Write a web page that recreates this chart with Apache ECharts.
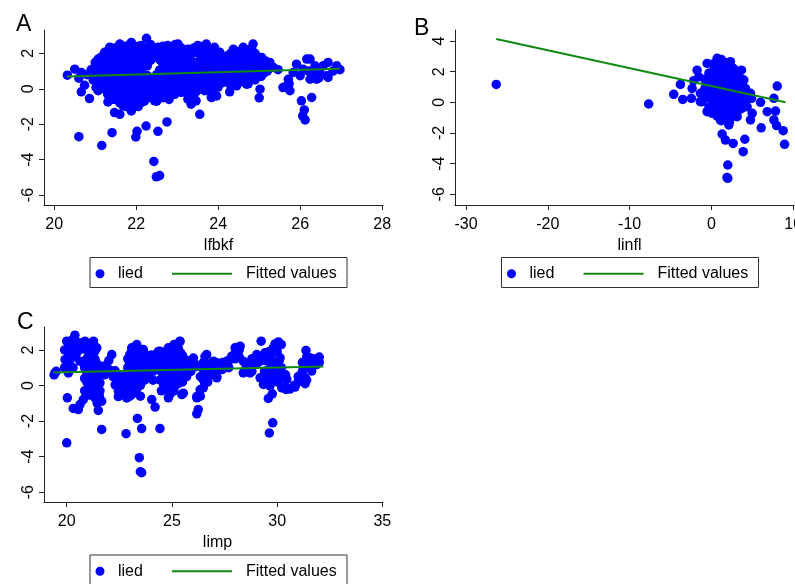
<!DOCTYPE html>
<html><head><meta charset="utf-8">
<script src="https://cdn.jsdelivr.net/npm/echarts@6/dist/echarts.min.js"></script>
<style>html,body{margin:0;padding:0;background:#fff}#c{width:795px;height:584px}</style>
</head><body><div id="c"></div>
<script>
const FONT = '"Liberation Sans", Arial, sans-serif';
const scatterName = 'lied';
const fitName = 'Fitted values';
const panelLabels = ['A', 'B', 'C'];
const xTitles = ['lfbkf', 'linfl', 'limp'];
const xTicksA = [20, 22, 24, 26, 28];
const xTicksB = [-30, -20, -10, 0, 10];
const xTicksC = [20, 25, 30, 35];
const yTicksA = [-6, -4, -2, 0, 2];
const yTicksB = [-6, -4, -2, 0, 2, 4];
const yTicksC = [-6, -4, -2, 0, 2];

const pointsA = [
[20.32,0.77],[20.50,1.11],[20.66,0.92],[20.90,1.07],[20.60,0.60],[20.80,0.80],[20.95,0.50],[21.00,1.30],[20.74,0.20],[20.66,-0.17],[20.86,-0.55],[21.02,0.07],[21.07,-0.11],[21.27,0.17],[21.35,-0.31],[21.31,-0.74],[21.47,-1.34],[21.60,-1.44],[21.88,-1.25],[21.68,-0.96],[21.76,-0.59],[22.12,-0.78],[22.45,-0.68],[22.69,-0.40],[22.94,-0.31],[23.03,0.30],[23.18,0.36],[23.26,-0.59],[23.34,-0.87],[23.46,-0.68],[23.55,-1.44],[23.67,-0.11],[23.83,-0.49],[23.75,0.36],
[20.60,-2.70],[21.16,-3.20],[21.41,-2.48],[21.99,-2.72],[22.02,-2.40],[22.24,-2.10],[22.53,-2.40],[22.75,-1.87],[22.43,-4.10],[22.49,-4.97],[22.57,-4.90],
[21.07,1.68],[21.23,2.06],[21.35,2.34],[21.60,2.53],[21.88,2.62],[22.12,2.44],[22.25,2.85],[22.53,2.34],[22.77,2.44],[23.02,2.53],[23.26,2.24],[23.50,2.44],[23.71,2.53],[23.91,2.34],[24.04,2.06],[24.37,2.24],[24.61,2.34],[24.85,2.53],[25.06,1.77],[25.14,1.59],[25.26,1.49],
[21.00,0.50],[21.00,1.00],[21.00,1.50],
[21.15,0.30],[21.15,0.80],[21.15,1.30],[21.15,1.80],
[21.30,-0.30],[21.30,0.20],[21.30,0.70],[21.30,1.20],[21.30,1.70],[21.30,2.10],
[21.45,-0.60],[21.45,-0.10],[21.45,0.40],[21.45,0.90],[21.45,1.40],[21.45,1.90],[21.45,2.30],
[21.60,-0.80],[21.60,-0.30],[21.60,0.20],[21.60,0.70],[21.60,1.20],[21.60,1.60],[21.60,2.10],[21.60,2.50],
[21.75,-1.00],[21.75,-0.50],[21.75,0.00],[21.75,0.50],[21.75,1.00],[21.75,1.50],[21.75,2.00],[21.75,2.40],
[21.90,-0.80],[21.90,-0.30],[21.90,0.20],[21.90,0.70],[21.90,1.20],[21.90,1.70],[21.90,2.20],
[22.05,-1.00],[22.05,-0.50],[22.05,0.00],[22.05,0.50],[22.05,1.00],[22.05,1.50],[22.05,1.90],[22.05,2.40],
[22.20,-0.70],[22.20,-0.20],[22.20,0.30],[22.20,0.80],[22.20,1.30],[22.20,1.80],[22.20,2.30],
[22.35,-0.50],[22.35,0.00],[22.35,0.50],[22.35,1.60],[22.35,2.00],[22.35,2.50],
[22.50,-0.70],[22.50,-0.20],[22.50,0.30],[22.50,0.80],[22.50,1.90],[22.50,2.20],
[22.65,-0.50],[22.65,0.00],[22.65,0.50],[22.65,1.00],[22.65,1.40],[22.65,1.90],[22.65,2.40],
[22.80,-0.60],[22.80,-0.10],[22.80,0.40],[22.80,0.90],[22.80,1.40],[22.80,1.80],[22.80,2.20],
[22.95,0.10],[22.95,0.60],[22.95,1.10],[22.95,1.60],[22.95,2.10],[22.95,2.50],
[23.10,-0.20],[23.10,0.50],[23.10,1.00],[23.10,1.40],[23.10,1.90],[23.10,2.30],
[23.25,-0.30],[23.25,0.20],[23.25,0.70],[23.25,1.20],[23.25,1.70],[23.25,2.10],
[23.40,-0.40],[23.40,0.10],[23.40,0.60],[23.40,1.10],[23.40,1.50],[23.40,2.30],
[23.55,0.00],[23.55,0.50],[23.55,1.00],[23.55,1.60],[23.55,2.00],[23.55,2.40],
[23.70,0.20],[23.70,0.70],[23.70,1.20],[23.70,1.70],[23.70,2.20],
[23.85,-0.10],[23.85,0.40],[23.85,0.90],[23.85,1.40],[23.85,1.90],
[24.00,0.10],[24.00,0.60],[24.00,1.10],[24.00,1.60],
[24.15,0.40],[24.15,0.90],[24.15,1.30],[24.15,1.80],
[24.30,0.20],[24.30,0.70],[24.30,1.20],[24.30,1.60],[24.30,2.00],
[24.45,0.50],[24.45,1.00],[24.45,1.50],[24.45,1.90],
[24.60,0.40],[24.60,0.90],[24.60,1.40],[24.60,2.00],
[24.75,0.60],[24.75,1.10],[24.75,1.60],[24.75,2.20],
[24.90,0.50],[24.90,1.00],[24.90,1.50],[24.90,2.00],
[25.05,0.70],[25.05,1.20],[25.05,1.60],
[25.20,1.00],[25.20,1.30],
[21.22,0.00],[21.22,0.45],[21.22,0.95],[21.22,1.45],[21.22,1.95],
[21.37,-0.50],[21.37,0.45],[21.37,0.95],[21.37,1.45],[21.37,2.00],
[21.52,-0.35],[21.52,0.15],[21.52,0.65],[21.52,1.15],[21.52,1.65],[21.52,2.20],
[21.67,-0.55],[21.67,-0.05],[21.67,0.45],[21.67,0.95],[21.67,1.40],[21.67,1.85],[21.67,2.30],
[21.82,-0.55],[21.82,-0.05],[21.82,0.45],[21.82,0.95],[21.82,1.45],[21.82,1.95],[21.82,2.45],
[21.97,-0.55],[21.97,-0.05],[21.97,0.45],[21.97,0.95],[21.97,1.45],[21.97,1.95],
[22.12,-0.25],[22.12,0.25],[22.12,0.75],[22.12,1.25],[22.12,1.70],[22.12,2.15],
[22.27,-0.25],[22.27,0.25],[22.27,0.75],[22.27,1.30],[22.27,1.85],
[22.42,-0.30],[22.42,0.25],[22.42,0.60],[22.42,1.85],[22.42,2.25],
[22.57,-0.45],[22.57,0.05],[22.57,0.55],[22.57,1.05],[22.57,1.65],[22.57,2.05],
[22.72,-0.30],[22.72,0.25],[22.72,0.75],[22.72,1.20],[22.72,1.65],[22.72,2.10],
[22.87,-0.35],[22.87,0.15],[22.87,0.65],[22.87,1.15],[22.87,1.60],[22.87,2.00],[22.87,2.35],
[23.02,0.85],[23.02,1.35],[23.02,1.85],[23.02,2.25],
[23.17,0.05],[23.17,0.75],[23.17,1.20],[23.17,1.65],[23.17,2.10],
[23.32,-0.05],[23.32,0.45],[23.32,0.95],[23.32,1.45],[23.32,1.90],
[23.47,-0.15],[23.47,0.35],[23.47,0.85],[23.47,1.30],[23.47,2.05],
[23.62,0.25],[23.62,0.75],[23.62,1.30],[23.62,1.80],[23.62,2.20],
[23.77,-0.10],[23.77,0.45],[23.77,0.95],[23.77,1.45],[23.77,1.95],
[23.92,0.15],[23.92,0.65],[23.92,1.15],[23.92,1.65],
[24.07,0.35],[24.07,0.85],[24.07,1.35],[24.07,1.85],
[24.22,0.45],[24.22,0.95],[24.22,1.45],[24.22,1.85],
[24.37,0.45],[24.37,0.95],[24.37,1.40],[24.37,1.75],
[24.52,0.65],[24.52,1.15],[24.52,1.65],[24.52,2.10],
[24.67,0.65],[24.67,1.15],[24.67,1.70],[24.67,2.15],
[24.82,0.85],[24.82,1.30],[24.82,1.75],[24.82,2.25],
[24.97,0.75],[24.97,1.25],[24.97,1.80],
[25.12,0.90],[25.12,1.40],
[24.61,1.30],[24.85,1.49],[24.77,0.74],[24.69,0.26],[24.73,0.28],[25.02,-0.02],[25.00,-0.51],[24.28,-0.17],[23.96,-0.40],[23.84,-0.49],[24.12,0.36],[24.45,0.17],
[25.46,1.08],[25.35,1.20],[25.18,1.30],[25.71,0.54],[25.58,0.07],[25.75,-0.11],[25.67,0.17],[25.73,0.28],[25.83,0.92],[25.91,1.39],[26.16,1.68],[26.07,1.11],[26.00,0.74],[26.03,-0.68],[26.28,-0.49],[26.10,-1.19],[26.06,-1.53],[26.12,-1.76],[26.24,1.68],[26.36,1.30],[26.24,0.54],[26.40,0.54],[26.48,0.92],[26.38,1.04],[26.56,1.30],[26.68,1.49],[26.68,0.64],[26.65,0.74],[26.89,1.30],[26.97,1.08],[26.93,1.13],[26.80,1.00],[26.20,1.00],[26.30,0.80],[26.45,0.60]
];

const pointsB = [
[-26.3,1.17],[-7.67,-0.11],[-4.61,0.52],[-3.79,1.17],[-3.51,0.19],[-2.45,0.26],[-2.16,1.41],[-2.36,0.91],[-1.75,2.10],[-1.35,0.04],[-0.53,-0.61],
[8.04,1.06],[7.63,0.26],[6.82,-0.61],[7.83,-0.57],[7.63,-1.15],[7.96,-1.52],[8.77,-1.85],[8.94,-2.74],[6.00,0.00],[6.08,-1.66],[4.77,-1.15],[4.98,-0.72],[4.90,0.26],[4.08,-2.41],[3.88,-3.22],[2.65,-2.68],[1.31,-2.07],[1.71,-2.46],[2.00,-4.09],[2.00,-4.96],[1.90,-4.90],[1.10,-1.15],[2.12,-1.48],[3.96,1.45],[3.67,2.10],[3.14,2.00],[4.16,0.91],[4.36,0.37],
[0.70,2.87],[-0.53,2.54],[2.32,2.65],[3.34,2.00],[4.77,0.59],[4.36,-0.29],[3.14,-0.94],[0.08,-0.72],[-1.14,0.04],[-1.35,0.59],[-1.55,1.67],
[-0.80,0.30],[-0.80,0.90],[-0.80,1.50],
[-0.30,-0.30],[-0.30,0.30],[-0.30,0.80],[-0.30,1.30],[-0.30,1.90],
[0.20,-0.60],[0.20,0.00],[0.20,0.50],[0.20,1.00],[0.20,1.50],[0.20,2.00],[0.20,2.50],
[0.70,-0.90],[0.70,-0.30],[0.70,0.20],[0.70,0.70],[0.70,1.20],[0.70,1.70],[0.70,2.20],[0.70,2.70],
[1.20,-1.20],[1.20,-0.60],[1.20,-0.10],[1.20,0.40],[1.20,0.90],[1.20,1.40],[1.20,1.90],[1.20,2.40],[1.20,2.80],
[1.70,-1.00],[1.70,-0.40],[1.70,0.10],[1.70,0.60],[1.70,1.10],[1.70,1.60],[1.70,2.10],[1.70,2.60],
[2.20,-1.30],[2.20,-0.70],[2.20,-0.20],[2.20,0.30],[2.20,0.80],[2.20,1.30],[2.20,1.80],[2.20,2.30],[2.20,2.60],
[2.70,-0.90],[2.70,-0.30],[2.70,0.20],[2.70,0.70],[2.70,1.20],[2.70,1.70],[2.70,2.20],
[3.20,-0.60],[3.20,0.00],[3.20,0.50],[3.20,1.00],[3.20,1.50],
[3.70,-0.40],[3.70,0.20],[3.70,0.70],[3.70,1.20],[3.70,1.50],
[4.20,-0.20],[4.20,0.40]
];

const pointsC = [
[20.00,-3.22],[20.03,-0.69],[20.39,2.83],[20.00,2.49],[19.44,0.71],[19.40,0.60],[20.31,-1.29],[20.55,-1.35],[21.50,-1.40],[21.66,-2.47],[22.82,-2.71],[23.36,-1.85],[23.56,-2.42],[23.45,-4.06],[23.56,-4.90],[23.50,-4.85],[24.43,-2.42],[24.04,-0.79],[24.20,-1.21],[26.18,-1.59],[26.25,-1.35],[26.18,-0.69],[25.38,2.49],
[29.24,2.49],[29.79,-2.10],[29.63,-2.67],[29.58,-0.73],[29.77,-0.47],[30.06,2.45],[29.90,2.34],[30.14,1.56],[30.22,-0.13],[30.42,-0.22],[30.85,-0.09],[31.33,0.10],[31.37,1.97],[31.96,1.46],[27.13,0.43],
[20.08,0.71],[19.92,1.46],[20.87,2.49],[21.27,2.49],[21.43,2.12],[20.63,1.37],[20.48,1.84],[21.03,0.62],[21.26,0.25],[21.11,-0.51],[20.79,-0.79],[20.63,-1.07],[21.74,0.99],[22.14,1.74],[21.58,0.15],[21.66,-0.88],[21.58,-0.30],[22.38,0.62],[22.53,0.06],[22.61,-0.51],[23.00,-0.60],[23.09,2.12],[23.33,2.30],[23.64,2.02],[23.17,1.37],[23.00,0.43],[23.33,-0.13],[23.96,0.99],[24.43,1.93],[24.83,2.12],[24.83,-0.69],[25.07,-0.32],[25.47,-0.51],[26.65,1.74],[26.97,1.37],[26.65,0.62],[26.49,-0.13],
[27.29,0.90],[28.00,2.12],[28.24,2.21],[27.84,1.65],[28.39,1.37],[28.39,0.71],[28.71,0.71],[29.03,1.74],[29.42,1.84],[29.66,1.46],[29.19,0.43],[29.35,0.06],[29.58,0.62],[29.90,0.43],[30.30,0.53],[30.46,0.34],[29.66,-0.02],[31.17,0.62],[31.25,0.99],[31.56,1.56],[31.88,1.18],[31.64,0.81],[31.33,0.43],[27.60,1.37],[28.47,0.81],
[26.18,-0.62],[26.34,-0.24],[26.57,0.13],[26.57,1.63],[27.13,0.51],[22.30,0.04],[22.45,-0.62],[22.85,-0.70],[22.30,0.83],[24.04,1.72],[24.35,1.91],[23.80,0.70],[24.43,0.32],[25.38,2.47],[25.07,2.00],[25.54,-0.43],[26.02,1.54],[26.18,1.07],
[19.50,0.80],[19.90,1.00],[19.90,2.00],[20.10,1.30],[20.10,1.80],[20.10,2.30],[20.30,1.00],[20.30,1.60],[20.30,2.10],[20.30,2.60],[20.60,2.00],[20.60,2.40],
[20.85,-0.30],[20.85,0.40],[20.85,1.00],[20.85,2.10],[21.05,0.00],[21.05,1.20],[21.05,1.80],[21.05,2.30],[21.25,-0.60],[21.25,-0.10],[21.25,0.50],[21.25,1.10],[21.25,1.70],[21.25,2.20],
[21.45,-1.00],[21.45,-0.40],[21.45,0.20],[21.45,0.70],[21.45,1.20],[21.60,0.90],[21.80,0.60],[21.80,1.10],[22.00,0.90],[22.00,1.40],[22.20,0.50],[22.20,0.80],[22.45,-0.30],[22.45,0.20],[22.70,-0.40],[22.70,0.00],[22.70,0.50],
[22.90,0.00],[22.90,0.50],[22.90,1.00],[22.90,1.50],[23.10,-0.50],[23.10,0.10],[23.10,0.60],[23.10,1.10],[23.10,1.60],[23.10,2.00],[23.30,-0.30],[23.30,0.30],[23.30,0.80],[23.30,1.30],[23.30,1.80],[23.30,2.20],
[23.50,-0.60],[23.50,0.00],[23.50,0.50],[23.50,1.00],[23.50,1.50],[23.50,2.00],[23.70,0.30],[23.70,0.80],[23.70,1.30],[23.70,1.80],[23.90,0.50],[23.90,1.40],
[24.10,0.30],[24.10,0.80],[24.10,1.30],[24.30,0.90],[24.30,1.40],[24.50,-0.30],[24.50,0.30],[24.50,0.80],[24.50,1.30],[24.50,1.80],
[24.70,-0.20],[24.70,0.40],[24.70,0.90],[24.70,1.40],[24.70,1.90],[24.90,-0.50],[24.90,0.00],[24.90,0.60],[24.90,1.10],[24.90,1.60],[24.90,2.10],
[25.10,-0.20],[25.10,0.30],[25.10,0.80],[25.10,1.30],[25.10,1.80],[25.10,2.30],[25.30,0.10],[25.30,0.60],[25.30,1.10],[25.30,1.60],[25.30,2.10],
[25.50,0.20],[25.50,0.70],[25.50,1.20],[25.50,1.70],[25.70,0.50],[25.70,1.00],[25.70,1.40],[25.90,0.80],[25.90,1.30],[26.10,1.20],
[26.35,-0.60],[26.35,0.50],[26.50,0.30],[26.50,0.90],[26.50,1.30],[26.70,0.20],[26.70,0.70],[26.70,1.20],[26.90,0.60],[26.90,1.10],
[27.10,0.90],[27.10,1.30],[27.40,0.90],[27.40,1.30],[27.70,1.00],[27.70,1.40],[28.00,1.50],[28.00,1.80],[28.20,1.60],[28.20,2.00],[28.50,1.20],[28.50,0.80],
[28.80,1.10],[28.80,1.50],[28.80,0.80],[29.10,1.30],[29.10,1.60],[29.40,1.40],[29.40,0.40],[29.40,0.80],[29.60,0.90],[29.60,1.90],[29.60,0.30],
[29.80,0.70],[29.80,1.30],[29.80,2.10],[30.00,0.20],[30.00,0.80],[30.00,1.20],[30.00,1.90],[30.20,0.40],[30.20,1.00],[30.20,2.30],[30.40,0.60],[30.40,-0.10],[30.60,-0.20],[30.80,0.00],
[31.00,0.20],[31.00,0.50],[31.20,0.80],[31.20,1.30],[31.40,1.10],[31.40,1.60],[31.40,0.30],[31.60,1.00],[31.60,1.30],[31.80,1.20],[31.80,1.50],[32.00,1.30],[32.00,1.60],
[20.20,1.05],[20.20,1.55],[20.20,2.05],[20.20,2.50],
[20.95,-0.55],[20.95,0.20],[20.95,0.70],[20.95,1.50],[20.95,2.00],
[21.15,-0.30],[21.15,0.30],[21.15,0.90],[21.15,1.50],[21.15,2.00],
[21.35,-0.70],[21.35,-0.20],[21.35,0.40],[21.35,0.95],[21.35,1.45],[21.35,1.95],
[21.55,-0.60],[21.55,0.55],[21.55,1.10],
[23.00,-0.30],[23.00,0.25],[23.00,0.75],[23.00,1.25],[23.00,1.75],
[23.20,-0.20],[23.20,0.35],[23.20,0.85],[23.20,1.35],[23.20,1.85],
[23.40,0.05],[23.40,0.55],[23.40,1.05],[23.40,1.55],[23.40,2.05],
[23.60,0.55],[23.60,1.05],[23.60,1.55],
[24.60,0.05],[24.60,0.60],[24.60,1.10],[24.60,1.60],
[24.80,0.35],[24.80,0.85],[24.80,1.35],[24.80,1.85],
[25.00,0.55],[25.00,1.05],[25.00,1.55],[25.00,2.05],
[25.20,0.35],[25.20,0.85],[25.20,1.35],[25.20,1.85],
[25.40,0.35],[25.40,0.85],[25.40,1.35],[25.40,1.85],
[29.70,0.55],[29.70,1.10],[29.70,1.60],[30.10,0.60],[30.10,1.40]
];

const fitA = [[20.3, 0.70], [26.97, 1.13]];
const fitB = [[-26.3, 4.13], [9.06, 0.00]];
const fitC = [[19.36, 0.73], [32.2, 1.07]];

const BLUE = '#0000ff';
const GREEN = '#108a10';
const AXIS = '#222';

const grids = [
  { left: 44, top: 30, width: 339, height: 175, outerBoundsMode: 'none' },
  { left: 455, top: 30, width: 339, height: 175, outerBoundsMode: 'none' },
  { left: 44, top: 327, width: 339, height: 175, outerBoundsMode: 'none' }
];
const xRanges = [[19.75, 28.02], [-31.34, 10.09], [18.92, 35.03]];
const yRanges = [[-6.56, 3.32], [-6.70, 4.72], [-6.55, 3.29]];
const xTicks = [xTicksA, xTicksB, xTicksC];
const yTicks = [yTicksA, yTicksB, yTicksC];
const titleShift = [10, 10, 8];

function mkX(i) {
  return {
    type: 'value', gridIndex: i, min: xRanges[i][0], max: xRanges[i][1],
    splitLine: { show: false },
    axisLine: { show: true, onZero: false, lineStyle: { color: AXIS, width: 1 } },
    axisTick: { show: true, length: 5, customValues: xTicks[i], lineStyle: { color: AXIS } },
    axisLabel: { customValues: xTicks[i], margin: 12, fontSize: 16, color: '#000', fontFamily: FONT },
    name: xTitles[i], nameLocation: 'middle', nameGap: 33,
    nameTextStyle: { fontSize: 16, color: '#000', fontFamily: FONT, padding: [0, 0, 0, titleShift[i]] }
  };
}
function mkY(i) {
  return {
    type: 'value', gridIndex: i, min: yRanges[i][0], max: yRanges[i][1],
    splitLine: { show: false },
    axisLine: { show: true, onZero: false, lineStyle: { color: AXIS, width: 1 } },
    axisTick: { show: true, length: 5, customValues: yTicks[i], lineStyle: { color: AXIS } },
    axisLabel: { customValues: yTicks[i], rotate: 90, margin: 7, fontSize: 16, color: '#000', fontFamily: FONT }
  };
}

const pts = [pointsA, pointsB, pointsC];
const fits = [fitA, fitB, fitC];
const series = [];
for (let i = 0; i < 3; i++) {
  series.push({
    type: 'scatter', name: scatterName, xAxisIndex: i, yAxisIndex: i,
    data: pts[i], symbol: 'circle', symbolSize: 9.5, itemStyle: { color: BLUE, opacity: 1 },
    silent: true, z: 2
  });
  series.push({
    type: 'line', name: fitName, xAxisIndex: i, yAxisIndex: i,
    data: fits[i], symbol: 'none', showSymbol: false, lineStyle: { color: GREEN, width: 2 }, itemStyle: { color: GREEN },
    silent: true, z: 3
  });
}

const legendBoxes = [[90, 257.5], [501.5, 257.5], [90, 555]];
const legends = [];
const graphics = [];
legendBoxes.forEach(([bx, by]) => {
  const cy = by + 15.2;
  legends.push({
    data: [{ name: scatterName, icon: 'circle' }], left: bx + 5.5, top: cy - 7, padding: 0, itemWidth: 9, itemHeight: 9,
    selectedMode: false,
    textStyle: { fontSize: 16, lineHeight: 14, color: '#000', fontFamily: FONT, padding: [0, 0, 0, 8.5] }
  });
  legends.push({
    data: [{ name: fitName, icon: 'rect' }], left: bx + 82, top: cy - 7, padding: 0, itemWidth: 60, itemHeight: 2,
    selectedMode: false,
    textStyle: { fontSize: 16, lineHeight: 14, color: '#000', fontFamily: FONT, padding: [0, 0, 0, 9] }
  });
  graphics.push({
    type: 'rect', shape: { x: bx, y: by, width: 257, height: 30 },
    style: { fill: 'none', stroke: '#333', lineWidth: 1 }, silent: true
  });
});

const labelPos = [[16, 13], [414, 17], [17, 311]];
const titles = panelLabels.map((t, i) => ({
  text: t, left: labelPos[i][0], top: labelPos[i][1], padding: 0,
  textStyle: { fontSize: 23, fontWeight: 'normal', color: '#000', fontFamily: FONT }
}));

const chart = echarts.init(document.getElementById('c'), null, { renderer: 'canvas' });
chart.setOption({
  animation: false,
  backgroundColor: '#fff',
  title: titles,
  grid: grids,
  xAxis: [0, 1, 2].map(mkX),
  yAxis: [0, 1, 2].map(mkY),
  legend: legends,
  graphic: graphics,
  series: series
});
</script>
</body></html>
